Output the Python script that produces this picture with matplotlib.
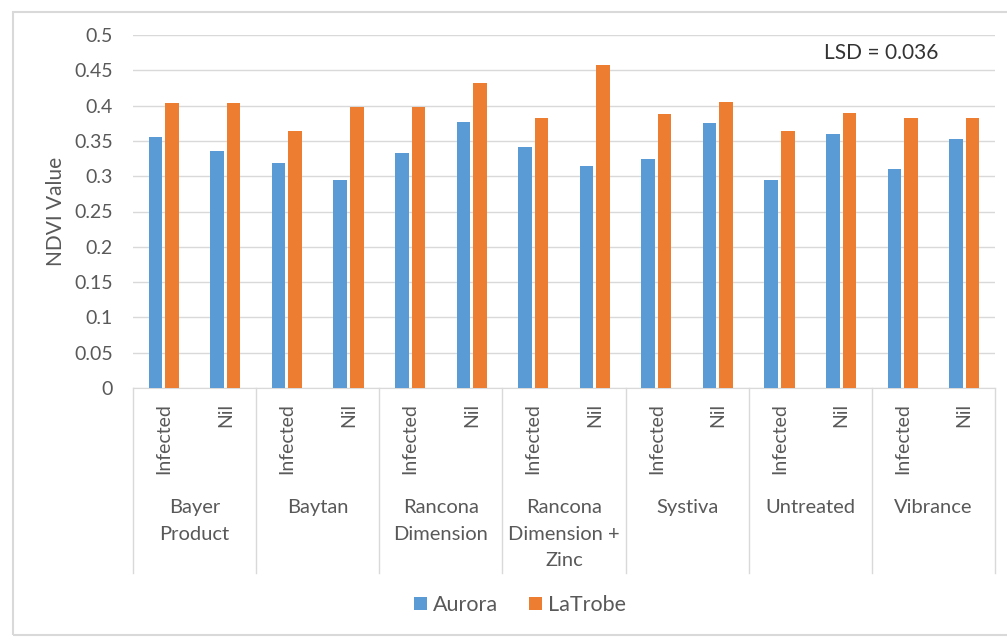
import numpy as np
import matplotlib.pyplot as plt
from matplotlib.patches import Rectangle
from matplotlib.transforms import blended_transform_factory

plt.rcParams['font.family'] = ['Lato', 'DejaVu Sans']

# data
groups = ["Bayer\nProduct", "Baytan", "Rancona\nDimension", "Rancona\nDimension +\nZinc",
          "Systiva", "Untreated", "Vibrance"]
subs = ["Infected", "Nil"]
aurora = [0.356, 0.336, 0.318, 0.295, 0.333, 0.377, 0.341, 0.314,
          0.325, 0.375, 0.295, 0.360, 0.310, 0.352]
latrobe = [0.404, 0.404, 0.364, 0.398, 0.398, 0.432, 0.383, 0.457,
           0.388, 0.405, 0.364, 0.389, 0.383, 0.383]
yticks = [0, 0.05, 0.1, 0.15, 0.2, 0.25, 0.3, 0.35, 0.4, 0.45, 0.5]
lsd_text = "LSD = 0.036"

W, H = 1007, 637
fig = plt.figure(figsize=(W/100, H/100), dpi=100)
ax = fig.add_axes([133/W, 1-388/H, (995-133)/W, (388-35)/H])

grid_c = "#D9D9D9"
txt_c = "#595959"
x = np.arange(len(aurora))
bw = 0.22
ax.bar(x - 0.135, aurora, bw, color="#5B9BD5", label="Aurora", zorder=3)
ax.bar(x + 0.135, latrobe, bw, color="#ED7D31", label="LaTrobe", zorder=3)

ax.set_xlim(-0.5, len(aurora) - 0.5)
ax.set_ylim(0, 0.5)
ax.set_yticks(yticks)
ax.set_yticklabels([("%g" % v) for v in yticks], color=txt_c, fontsize=14)
ax.tick_params(axis='y', length=0, pad=14.4)
ax.set_xticks([])
ax.grid(axis='y', color=grid_c, lw=1, zorder=0)
for s in ['top', 'right', 'left']:
    ax.spines[s].set_visible(False)
ax.spines['bottom'].set_color(grid_c)
ax.set_ylabel("NDVI Value", fontsize=15, color=txt_c, labelpad=6)

# two-level category axis
tr = blended_transform_factory(ax.transData, fig.transFigure)
def fy(py):
    return 1 - py/H
for i in range(len(aurora)):
    ax.text(x[i], fy(403), subs[i % 2], transform=tr, rotation=90, ha='center', va='top',
            fontsize=14, color=txt_c)
for g, name in enumerate(groups):
    ax.text(2*g + 0.5, fy(499), name, transform=tr, ha='center', va='top',
            fontsize=14.5, color=txt_c, linespacing=1.68)
for b in range(len(groups) + 1):
    ax.plot([2*b - 0.5, 2*b - 0.5], [fy(388), fy(573)], transform=tr, color=grid_c,
            lw=1, clip_on=False)

ax.text(881/W, fy(53), lsd_text, transform=fig.transFigure, ha='center', va='center',
        fontsize=15, color="#333333")

fig.legend(loc='center', bbox_to_anchor=(520/W, fy(605)), ncol=2, frameon=False,
           fontsize=15.5, handlelength=0.6, handleheight=0.6, handletextpad=0.3,
           columnspacing=1.4, labelcolor=txt_c)

fig.patches.append(Rectangle((13/W, fy(635)), (W+5-13)/W, (635-12)/H, transform=fig.transFigure,
                             fill=False, edgecolor=grid_c, lw=1.5))

fig.savefig("out.png", dpi=100)
